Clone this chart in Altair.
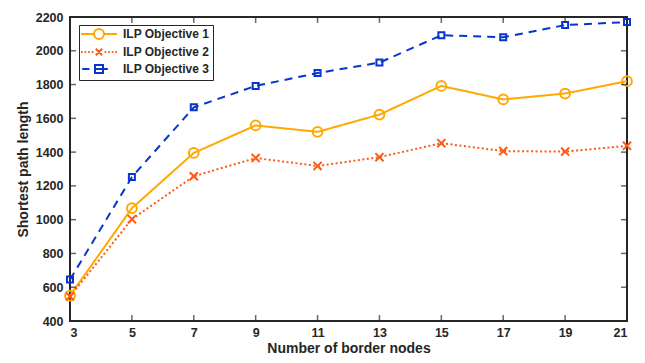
import altair as alt
import pandas as pd

nodes = [3, 5, 7, 9, 11, 13, 15, 17, 19, 21]
obj1 = [550, 1068, 1395, 1558, 1520, 1622, 1792, 1712, 1747, 1820]
obj2 = [545, 1003, 1257, 1365, 1318, 1370, 1453, 1406, 1403, 1437]
obj3 = [645, 1252, 1665, 1792, 1868, 1930, 2092, 2080, 2152, 2170]
series_names = ["ILP Objective 1", "ILP Objective 2", "ILP Objective 3"]
colors = ["#FFA800", "#FF5A14", "#0A35CC"]
y_ticks = [400, 600, 800, 1000, 1200, 1400, 1600, 1800, 2000, 2200]

rows = []
for name, vals in zip(series_names, [obj1, obj2, obj3]):
    for n, v in zip(nodes, vals):
        rows.append({"nodes": n, "length": v, "series": name})
df = pd.DataFrame(rows)

INK = "#262626"
FONT = "Liberation Sans"

xs = alt.Scale(domain=[3, 21], nice=False, zero=False)
ys = alt.Scale(domain=[400, 2200], nice=False, zero=False)
cs = alt.Scale(domain=series_names, range=colors)

x_axis = alt.Axis(values=nodes, title="Number of border nodes", labelPadding=5, titlePadding=3,
                  format="d", labelOverlap=False)
y_axis = alt.Axis(values=y_ticks, title="Shortest path length", labelPadding=7, titlePadding=5,
                  format="d", labelOverlap=False)


def X():
    return alt.X("nodes:Q", scale=xs, axis=x_axis, title="Number of border nodes")


def Y():
    return alt.Y("length:Q", scale=ys, axis=y_axis, title="Shortest path length")


cross_path = "M-1,-1L1,1M-1,1L1,-1"
# legend glyphs: line + marker (unit scaled by sqrt(size)/2)
leg_circle = "M-4.5,0H-1.25M1.25,0H4.5M1.25,0A1.25,1.25 0 1,1 -1.25,0A1.25,1.25 0 1,1 1.25,0"
leg_cross = ("M-4.5,0H-4.1M-3.6,0H-3.2M-2.7,0H-2.3M-1.8,0H-1.4"
             "M-0.8,-0.8L0.8,0.8M-0.8,0.8L0.8,-0.8"
             "M1.4,0H1.8M2.3,0H2.7M3.2,0H3.6M4.1,0H4.5")
leg_square = "M-4.2,0H-2.4M-1,-1H1V1H-1ZM-1,0H2.2"

base = alt.Chart(df)

lines = base.mark_line(strokeWidth=2).encode(
    x=X(), y=Y(),
    color=alt.Color("series:N", scale=cs, legend=None),
    strokeDash=alt.StrokeDash("series:N",
                              scale=alt.Scale(domain=series_names, range=[[1, 0], [2, 2.5], [8, 6]]),
                              legend=None),
)

points = base.mark_point(filled=False, strokeWidth=2, opacity=1).encode(
    x=X(), y=Y(),
    color=alt.Color("series:N", scale=cs, legend=None),
    shape=alt.Shape("series:N", scale=alt.Scale(domain=series_names, range=["circle", cross_path, "square"]),
                    legend=None),
    size=alt.Size("series:N", scale=alt.Scale(domain=series_names, range=[95, 36, 64]), legend=None),
)

legend_layer = base.mark_point(filled=False, strokeWidth=2, opacity=0).encode(
    x=X(), y=Y(),
    color=alt.Color("series:N", scale=alt.Scale(domain=series_names, range=colors),
                    legend=alt.Legend(title=None)),
    shape=alt.Shape("series:N", scale=alt.Scale(domain=series_names, range=[leg_circle, leg_cross, leg_square]),
                    legend=alt.Legend(title=None)),
)

x_min, x_max = nodes[0], nodes[-1]
y_min, y_max = y_ticks[0], y_ticks[-1]
tick_bottom = pd.DataFrame({"nodes": nodes, "length": [y_min] * len(nodes)})
tick_top = pd.DataFrame({"nodes": nodes, "length": [y_max] * len(nodes)})
tick_left = pd.DataFrame({"nodes": [x_min] * len(y_ticks), "length": y_ticks})
tick_right = pd.DataFrame({"nodes": [x_max] * len(y_ticks), "length": y_ticks})


def tick_layer(d, orient, dx=0, dy=0):
    props = dict(orient=orient, size=6, thickness=1.5, color=INK)
    if dx:
        props["xOffset"] = dx
    if dy:
        props["yOffset"] = dy
    return alt.Chart(d).mark_tick(**props).encode(x=X(), y=Y())


chart = alt.layer(
    lines, points, legend_layer,
    tick_layer(tick_bottom, "vertical", dy=-3),
    tick_layer(tick_top, "vertical", dy=3),
    tick_layer(tick_left, "horizontal", dx=3),
    tick_layer(tick_right, "horizontal", dx=-3),
).resolve_scale(shape="independent", color="independent").properties(
    width=557, height=304,
    autosize=alt.AutoSizeParams(type="none"),
    padding={"left": 62, "top": 9, "right": 10, "bottom": 34},
).configure_view(
    stroke=INK, strokeWidth=2
).configure_axis(
    domain=False, ticks=False, grid=False,
    labelFont=FONT, labelFontWeight="bold", labelFontSize=12.5, labelColor=INK,
    titleFont=FONT, titleFontWeight="bold", titleFontSize=14, titleColor=INK,
).configure_legend(
    orient="none", legendX=9, legendY=8,
    padding=3, strokeColor=INK, fillColor="white",
    labelFont=FONT, labelFontWeight="bold", labelFontSize=12, labelColor=INK,
    symbolSize=64, symbolStrokeWidth=2, symbolOffset=11, labelOffset=18, rowPadding=1,
    symbolOpacity=1,
)

chart.save("out.html", embed_options={"renderer": "svg", "actions": False})
